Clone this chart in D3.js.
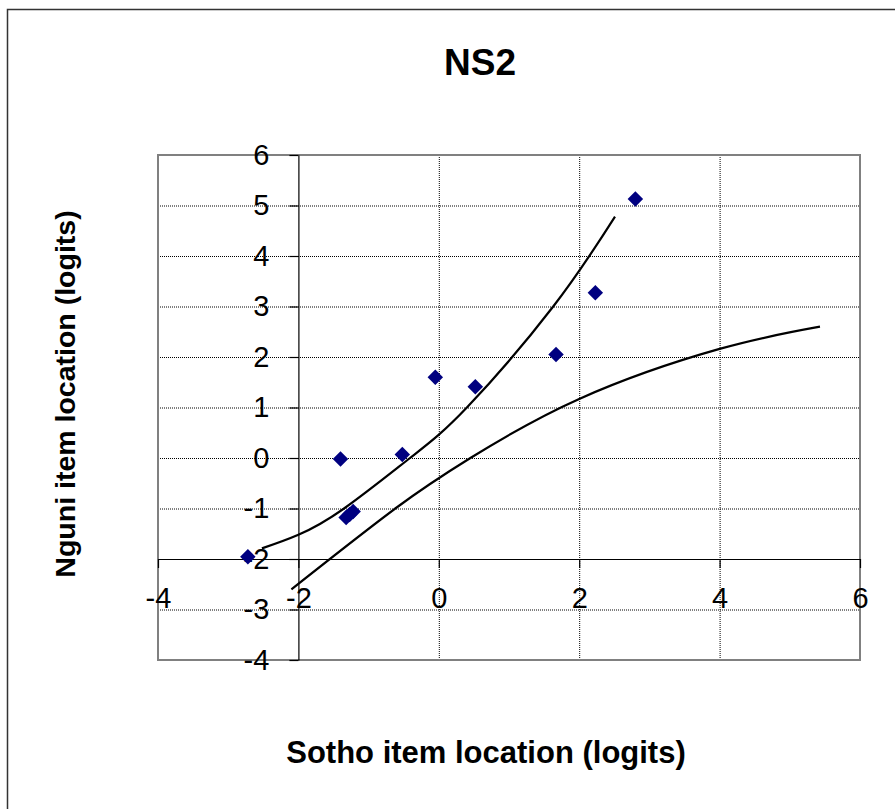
<!DOCTYPE html>
<html lang="en">
<head>
  <meta charset="UTF-8">
  <title>NS2</title>
  <script src="https://d3js.org/d3.v7.min.js"></script>
  <style>
    body { margin: 0; background: #fff; }
    text { font-family: "Liberation Sans", Arial, sans-serif; }
  </style>
</head>
<body>
<div id="chart"></div>
<script>
// item locations (logits)
const sothoX = [-2.72, -1.40, -0.52, -1.32, -1.27, -1.22, -0.05, 0.52, 1.67, 2.23, 2.80];
const nguniY = [-1.955, -0.02, 0.07, -1.18, -1.12, -1.06, 1.60, 1.41, 2.05, 3.27, 5.13];

// the two control curves
const upperX = [-2.52, -2.0, -1.35, -0.41, 0.40, 1.63, 2.51];
const upperY = [-1.79, -1.52, -1.0, 0.0, 1.0, 3.0, 4.78];
const lowerX = [-2.10, -0.62, 0.45, 2.0, 4.0, 5.43];
const lowerY = [-2.60, -1.0, 0.0, 1.17, 2.16, 2.60];

const xTicks = [-4, -2, 0, 2, 4, 6];
const yTicks = [-4, -3, -2, -1, 0, 1, 2, 3, 4, 5, 6];

const width = 895, height = 809;
const svg = d3.select("#chart").append("svg")
  .attr("width", width)
  .attr("height", height);

// outer chart border
svg.append("rect")
  .attr("x", 7.5).attr("y", 9.5)
  .attr("width", 1000).attr("height", 1000)
  .attr("fill", "none")
  .attr("stroke", "#333")
  .attr("stroke-width", 1.5);

const x = d3.scaleLinear().domain([-4, 6]).range([158, 860]);
const y = d3.scaleLinear().domain([-4, 6]).range([660, 155]);

// dotted gridlines
svg.append("g").selectAll("line")
  .data(yTicks.filter(d => d > -4 && d < 6 && d !== -2))
  .join("line")
  .attr("x1", x(-4)).attr("x2", x(6))
  .attr("y1", d => y(d) + 0.5).attr("y2", d => y(d) + 0.5)
  .attr("stroke", "#000")
  .attr("stroke-dasharray", "1,1");

svg.append("g").selectAll("line")
  .data(xTicks.filter(d => d > -2 && d < 6))
  .join("line")
  .attr("x1", d => x(d) + 0.5).attr("x2", d => x(d) + 0.5)
  .attr("y1", y(6)).attr("y2", y(-4))
  .attr("stroke", "#000")
  .attr("stroke-dasharray", "1,1");

// plot area border
svg.append("rect")
  .attr("x", x(-4)).attr("y", y(6))
  .attr("width", x(6) - x(-4)).attr("height", y(-4) - y(6))
  .attr("fill", "none")
  .attr("stroke", "#808080")
  .attr("stroke-width", 2);

// axes crossing at (-2, -2)
const fmt = d => String(d);
const xAxis = svg.append("g")
  .attr("transform", `translate(0,${y(-2)})`)
  .call(d3.axisBottom(x).tickValues(xTicks).tickFormat(fmt)
    .tickSizeInner(9).tickSizeOuter(0).tickPadding(19));

const yAxis = svg.append("g")
  .attr("transform", `translate(${x(-2)},0)`)
  .call(d3.axisLeft(y).tickValues(yTicks).tickFormat(fmt)
    .tickSizeInner(9).tickSizeOuter(0).tickPadding(20));

[xAxis, yAxis].forEach(g => {
  g.selectAll("path, line").attr("stroke", "#000").attr("stroke-width", 1.2);
  g.selectAll("text")
    .attr("fill", "#000")
    .style("font-size", "29px")
    .style("font-family", "'Liberation Sans', Arial, sans-serif");
});

// curves
const line = d3.line()
  .x(d => x(d[0]))
  .y(d => y(d[1]))
  .curve(d3.curveNatural);

svg.append("path")
  .datum(upperX.map((v, i) => [v, upperY[i]]))
  .attr("d", line)
  .attr("fill", "none")
  .attr("stroke", "#000")
  .attr("stroke-width", 2.2);

svg.append("path")
  .datum(lowerX.map((v, i) => [v, lowerY[i]]))
  .attr("d", line)
  .attr("fill", "none")
  .attr("stroke", "#000")
  .attr("stroke-width", 2.2);

// points
svg.append("g").selectAll("path")
  .data(sothoX.map((v, i) => [v, nguniY[i]]))
  .join("path")
  .attr("d", d3.symbol(d3.symbolSquare, 120))
  .attr("transform", d => `translate(${x(d[0])},${y(d[1])}) rotate(45)`)
  .attr("fill", "#000080");

// titles
svg.append("text")
  .attr("x", 480).attr("y", 75)
  .attr("text-anchor", "middle")
  .style("font-size", "37px")
  .style("font-weight", "bold")
  .text("NS2");

svg.append("text")
  .attr("x", 486).attr("y", 763)
  .attr("text-anchor", "middle")
  .style("font-size", "31px")
  .style("font-weight", "bold")
  .text("Sotho item location (logits)");

svg.append("text")
  .attr("transform", "translate(75,394) rotate(-90)")
  .attr("text-anchor", "middle")
  .style("font-size", "28.5px")
  .style("font-weight", "bold")
  .text("Nguni item location (logits)");
</script>
</body>
</html>
